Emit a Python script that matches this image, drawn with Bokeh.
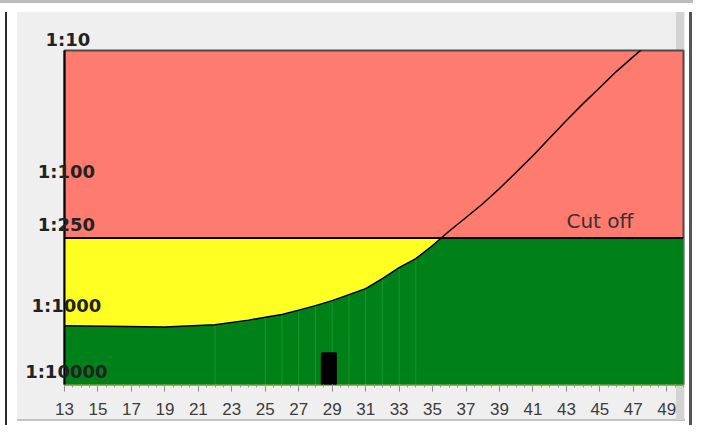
import numpy as np
from bokeh.plotting import figure
from bokeh.models import Range1d, FixedTicker, Label, Span
from bokeh.embed import file_html
from bokeh.resources import INLINE

# ---- data ----
ages = [13, 19, 22, 24, 25, 26, 27, 28, 29, 30, 31, 32, 33, 34, 35, 36, 37, 38,
        39, 40, 41, 42, 43, 44, 45, 46, 47, 48]
risk_den = [1128, 1157, 1109, 1026, 975, 933, 864, 800, 734, 662, 597, 503, 416,
            357, 285, 222, 176, 139, 107, 81, 61, 45, 33.3, 24.9, 18.9, 14.3, 11.1, 8.7]
cutoff = 250
seam_ages = [22, 25, 26, 27, 28, 29, 30, 31, 32, 33, 34]
patient_age = 28.8
patient_width = 0.9
patient_risk = 1800
x_ticks = list(range(13, 50, 2))
y_ticks = [100, 250, 1000, 3100]
y_labels = ["1:100", "1:250", "1:1000", "1:10000"]
top_label = "1:10"
x_start, x_end = 13, 50
y_top, y_bottom = 10, 3100
floor_den = 10000

RED = "#fe7b70"
YELLOW = "#ffff22"
GREEN = "#008019"
SEAM = "#1a962a"
PANEL = "#efefef"

W, H = 693, 431
p = figure(width=W, height=H, x_range=Range1d(x_start, x_end),
           y_range=Range1d(y_bottom, y_top), y_axis_type="log",
           output_backend="svg", toolbar_location=None,
           min_border_left=64, min_border_right=10, min_border_top=50,
           min_border_bottom=47)
p.background_fill_color = RED
p.border_fill_alpha = 0
p.outline_line_color = "#4a4a4a"
p.outline_line_width = 2
p.xgrid.visible = False
p.ygrid.visible = False

# app-window look behind the (transparent) border area
p.styles = {"background": ", ".join([
    "linear-gradient(#d3d3d3,#d3d3d3) 676px 12px / 8px 408px no-repeat",
    "linear-gradient(#c2c2c2,#c2c2c2) 17px 419px / 668px 2px no-repeat",
    "linear-gradient(%s,%s) 17px 12px / 668px 408px no-repeat" % (PANEL, PANEL),
    "linear-gradient(#bcbcbc,#bcbcbc) 0px 0px / 100% 3px no-repeat",
    "linear-gradient(#2b2b2b,#2b2b2b) 5px 12px / 2px 413px no-repeat",
    "linear-gradient(#555555,#555555) 689px 12px / 3px 413px no-repeat",
    "white"])}

# build fill polygon: curve clipped at cutoff, with crossing points
xs, ys = [], []
for i in range(len(ages)):
    if i > 0:
        a0, a1 = ages[i - 1], ages[i]
        l0, l1 = np.log10(risk_den[i - 1]), np.log10(risk_den[i])
        lc = np.log10(cutoff)
        if (l0 - lc) * (l1 - lc) < 0:
            t = (lc - l0) / (l1 - l0)
            xs.append(a0 + t * (a1 - a0))
            ys.append(cutoff)
    xs.append(ages[i])
    ys.append(max(risk_den[i], cutoff))
xs.append(x_end)
ys.append(cutoff)

p.varea(x=[x_start, x_end], y1=[cutoff, cutoff], y2=[floor_den, floor_den],
        fill_color=YELLOW)
p.varea(x=xs, y1=[floor_den] * len(xs), y2=ys, fill_color=GREEN)

seam_tops = [risk_den[ages.index(a)] for a in seam_ages]
p.segment(x0=seam_ages, y0=[floor_den] * len(seam_ages), x1=seam_ages,
          y1=seam_tops, line_color=SEAM, line_width=1)

p.vbar(x=[patient_age], width=patient_width, top=[patient_risk],
       bottom=[floor_den], fill_color="black", line_color="black")

p.add_layout(Span(location=cutoff, dimension="width", line_color="black",
                  line_width=2))
p.line(ages, risk_den, line_color="black", line_width=1.5)

p.add_layout(Label(x=45, y=cutoff, text="Cut off", text_align="center",
                   text_baseline="alphabetic", y_offset=17,
                   text_font="DejaVu Sans", text_font_size="20px",
                   text_color="#3a3030"))

# y axis: labels sit centred on the axis line, just above their level
shift_px = 13
decade_px = 334 / (np.log10(y_bottom) - np.log10(y_top))
f = 10 ** (shift_px / decade_px)
p.extra_y_ranges = {"lab": Range1d(y_bottom * f, y_top * f)}
p.yaxis[0].y_range_name = "lab"
yax = p.yaxis[0]
yax.ticker = FixedTicker(ticks=y_ticks, minor_ticks=[])
nb = "\u00a0"
pads = {100: 2, 250: 2, 1000: 1, 3100: 0}
yax.major_label_overrides = {t: lab + nb * pads[t] for t, lab in zip(y_ticks, y_labels)}
yax.axis_line_color = "black"
yax.axis_line_width = 2
yax.major_tick_in = 0
yax.major_tick_out = 0
yax.major_tick_line_color = None
yax.minor_tick_line_color = None
yax.major_label_standoff = -43
yax.major_label_text_font = "DejaVu Sans"
yax.major_label_text_font_style = "bold"
yax.major_label_text_font_size = "18px"
yax.major_label_text_color = "#222222"

p.title.text = top_label
p.title.align = "left"
p.title.offset = -19
p.title.standoff = 1
p.title.text_font = "DejaVu Sans"
p.title.text_font_style = "bold"
p.title.text_font_size = "18px"
p.title.text_color = "#222222"

p.xaxis.ticker = FixedTicker(ticks=x_ticks,
                             minor_ticks=list(np.arange(x_start, x_end + 0.01, 0.5)))
p.xaxis.axis_line_color = None
p.xaxis.major_tick_in = 0
p.xaxis.major_tick_out = 7
p.xaxis.minor_tick_in = 0
p.xaxis.minor_tick_out = 3
p.xaxis.major_tick_line_color = "#8a8a8a"
p.xaxis.minor_tick_line_color = "#9a9a9a"
p.xaxis.major_label_text_font = "Liberation Sans"
p.xaxis.major_label_text_font_size = "17px"
p.xaxis.major_label_text_color = "#3c3c3c"
p.xaxis.major_label_standoff = 11

open("out.html", "w").write(file_html(p, INLINE))
